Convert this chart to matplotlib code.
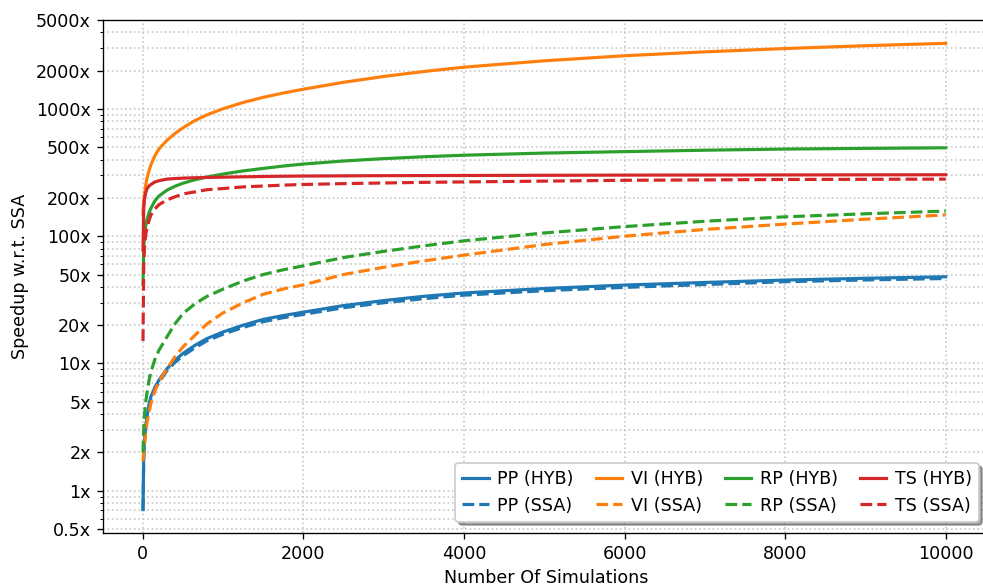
import matplotlib
matplotlib.use("Agg")
import matplotlib.pyplot as plt
from matplotlib.ticker import FixedLocator, FixedFormatter, LogLocator, NullFormatter

plt.rcParams["font.size"] = 10.5

# Number of simulations at which the speedups were sampled
n_sims = [1, 10, 20, 35, 50, 75, 100, 150, 200, 300, 400, 500, 650, 800,
          1000, 1250, 1500, 1750, 2000, 2500, 3000, 3500, 4000, 5000, 6000,
          7000, 8000, 9000, 10000]

# Speedup with respect to SSA, per model and method
pp_hyb = [0.71, 1.85, 2.5, 3.2, 3.8, 4.7, 5.5, 6.5, 7.4, 9.1, 10.6, 12.0,
          13.9, 15.7, 17.7, 20.0, 22.2, 23.8, 25.3, 28.5, 31.2, 33.7, 35.8,
          38.8, 41.3, 43.3, 45.2, 46.7, 48.0]
pp_ssa = [0.70, 1.8, 2.45, 3.1, 3.7, 4.55, 5.3, 6.25, 7.1, 8.8, 10.2, 11.5,
          13.3, 15.1, 17.0, 19.2, 21.3, 22.9, 24.3, 27.4, 30.0, 32.3, 34.4,
          37.3, 39.6, 41.7, 43.9, 45.3, 46.5]
vi_hyb = [150, 190, 212, 252, 285, 325, 365, 430, 485, 568, 642, 712,
          812, 900, 1005, 1125, 1235, 1335, 1430, 1620, 1800, 1970, 2130,
          2390, 2620, 2810, 2985, 3140, 3280]
vi_ssa = [1.7, 2.0, 2.35, 2.9, 3.4, 4.1, 4.85, 6.1, 7.2, 9.1, 11.3, 13.5,
          16.7, 20.5, 25.0, 30.0, 35.0, 38.5, 41.5, 50.0, 57.0, 64.0, 71.0,
          86.0, 100.0, 113.0, 124.5, 136.0, 147.0]
rp_hyb = [42, 82, 98, 120, 134, 152, 166, 190, 207, 230, 247, 261,
          278, 292, 308, 326, 341, 356, 369, 390, 407, 421, 433,
          450, 462, 474, 484, 490, 495]
rp_ssa = [2.0, 3.0, 4.0, 5.0, 5.8, 7.3, 8.6, 10.8, 12.7, 16.2, 20.5, 24.7,
          29.5, 33.7, 38.4, 44.5, 50.0, 54.5, 58.5, 68.0, 76.0, 84.0, 92.0,
          106.0, 119.0, 131.0, 142.0, 150.0, 157.5]
ts_hyb = [78, 165, 195, 220, 235, 248, 255, 267, 273, 281, 284, 286,
          288, 289.5, 291, 293, 294.5, 296, 297, 298, 299, 299.5, 300,
          301, 302, 302.5, 303, 303.5, 304]
ts_ssa = [15, 58, 82, 103, 115, 132, 147, 164, 177, 193, 204, 215,
          223, 232, 237, 244, 248, 252, 255, 259, 262, 265, 267,
          271, 275, 277, 279, 280, 281]

series = [
    ("PP (HYB)", pp_hyb, "#1f77b4", "-"),
    ("PP (SSA)", pp_ssa, "#1f77b4", "--"),
    ("VI (HYB)", vi_hyb, "#ff7f0e", "-"),
    ("VI (SSA)", vi_ssa, "#ff7f0e", "--"),
    ("RP (HYB)", rp_hyb, "#2ca02c", "-"),
    ("RP (SSA)", rp_ssa, "#2ca02c", "--"),
    ("TS (HYB)", ts_hyb, "#d62728", "-"),
    ("TS (SSA)", ts_ssa, "#d62728", "--"),
]

y_ticks = [0.5, 1, 2, 5, 10, 20, 50, 100, 200, 500, 1000, 2000, 5000]
y_tick_labels = ["0.5x", "1x", "2x", "5x", "10x", "20x", "50x", "100x",
                 "200x", "500x", "1000x", "2000x", "5000x"]
x_ticks = [0, 2000, 4000, 6000, 8000, 10000]

fig = plt.figure(figsize=(8.2, 587 / 120), dpi=120)
ax = fig.add_axes([0.1042, 0.0920, 0.9019, 0.8739])

for label, vals, color, ls in series:
    ax.plot(n_sims, vals, color=color, linestyle=ls, linewidth=1.9, label=label)

ax.set_yscale("log")
ax.set_ylim(0.465, 5000)
ax.set_xlim(-503, 10552)
ax.spines["right"].set_visible(False)

ax.yaxis.set_major_locator(FixedLocator(y_ticks))
ax.yaxis.set_major_formatter(FixedFormatter(y_tick_labels))
ax.yaxis.set_minor_locator(LogLocator(base=10, subs=range(1, 10), numticks=20))
ax.yaxis.set_minor_formatter(NullFormatter())
ax.set_xticks(x_ticks)

ax.grid(True, which="major", axis="both", linestyle=":", color="#c8c8c8", linewidth=1.0)
ax.grid(True, which="minor", axis="y", linestyle=":", color="#c8c8c8", linewidth=1.0)
ax.set_axisbelow(True)

ax.set_xlabel("Number Of Simulations")
ax.set_ylabel("Speedup w.r.t. SSA")

ax.legend(ncol=4, loc="lower right", shadow=True, fancybox=True,
          bbox_to_anchor=(1.0, 0.0), borderaxespad=0.65,
          handlelength=1.5, handletextpad=0.5, columnspacing=1.25)

fig.savefig("out.png", dpi=120)
